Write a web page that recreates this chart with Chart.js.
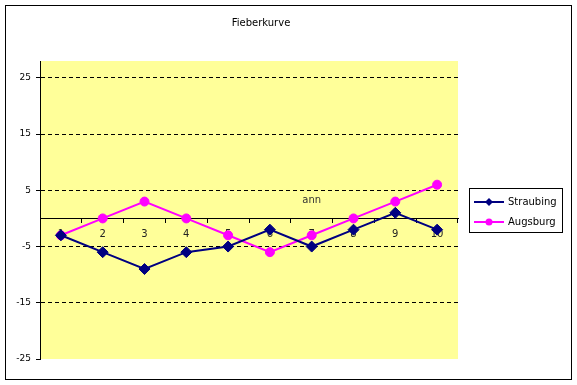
<!DOCTYPE html>
<html>
<head>
<meta charset="utf-8">
<script src="https://cdn.jsdelivr.net/npm/chart.js@4/dist/chart.umd.min.js"></script>
<style>
  html, body { margin: 0; padding: 0; background: #fff; }
  #wrap { width: 577px; height: 385px; position: relative; }
</style>
</head>
<body>
<div id="wrap"><canvas id="c" width="577" height="385"></canvas></div>
<script>
const chartTitle = 'Fieberkurve';
const categories = ['1', '2', '3', '4', '5', '6', '7', '8', '9', '10'];
const straubing = [-3, -6, -9, -6, -5, -2, -5, -2, 1, -2];
const augsburg = [-3, 0, 3, 0, -3, -6, -3, 0, 3, 6];
const yTicks = [-25, -15, -5, 5, 15, 25];
const yMin = -25;
const yMax = 28;
const annLabel = 'ann';
const annCategory = '7';
const annValue = 3.2;

const FONT = "'DejaVu Sans', Tahoma, sans-serif";

const decorPlugin = {
  id: 'decor',
  beforeDraw(chart) {
    const ctx = chart.ctx;
    const a = chart.chartArea;
    ctx.save();
    ctx.fillStyle = '#ffffff';
    ctx.fillRect(0, 0, chart.width, chart.height);
    ctx.strokeStyle = '#000000';
    ctx.lineWidth = 1;
    ctx.strokeRect(5.5, 5.5, 566, 374);
    ctx.fillStyle = '#FFFF99';
    ctx.fillRect(a.left, a.top, a.right - a.left, a.bottom - a.top);
    ctx.restore();
  },
  afterDraw(chart) {
    const ctx = chart.ctx;
    ctx.save();
    ctx.fillStyle = '#000000';
    ctx.font = '10px ' + FONT;
    ctx.textAlign = 'center';
    ctx.textBaseline = 'middle';
    ctx.fillText(chartTitle, 261, 23);
    const xs = chart.scales.x, ys = chart.scales.y;
    const ax = xs.getPixelForValue(categories.indexOf(annCategory));
    const ay = ys.getPixelForValue(annValue);
    ctx.fillStyle = '#333333';
    ctx.font = '10px ' + FONT;
    ctx.fillText(annLabel, ax, ay);
    const lx = 469.5, ly = 188.5, lw = 93, lh = 44;
    ctx.fillStyle = '#ffffff';
    ctx.fillRect(lx, ly, lw, lh);
    ctx.strokeStyle = '#000000';
    ctx.lineWidth = 1;
    ctx.strokeRect(lx, ly, lw, lh);
    chart.data.datasets.forEach((ds, i) => {
      const y = 202 + i * 20;
      ctx.strokeStyle = ds.borderColor;
      ctx.lineWidth = 2;
      ctx.beginPath();
      ctx.moveTo(474, y);
      ctx.lineTo(504, y);
      ctx.stroke();
      ctx.fillStyle = ds.backgroundColor;
      ctx.beginPath();
      if (ds.pointStyle === 'rectRot') {
        ctx.moveTo(489, y - 4); ctx.lineTo(493, y); ctx.lineTo(489, y + 4); ctx.lineTo(485, y);
        ctx.closePath();
      } else {
        ctx.arc(489, y, 3.5, 0, Math.PI * 2);
      }
      ctx.fill();
      ctx.fillStyle = '#000000';
      ctx.font = '10px ' + FONT;
      ctx.textAlign = 'left';
      ctx.textBaseline = 'middle';
      ctx.fillText(ds.label, 508, y);
    });
    ctx.restore();
  }
};

new Chart(document.getElementById('c'), {
  type: 'line',
  data: {
    labels: categories,
    datasets: [
      {
        label: 'Straubing',
        data: straubing,
        borderColor: '#000080',
        backgroundColor: '#000080',
        borderWidth: 2,
        pointStyle: 'rectRot',
        pointRadius: 5.5,
        pointBorderWidth: 1,
        tension: 0
      },
      {
        label: 'Augsburg',
        data: augsburg,
        borderColor: '#FF00FF',
        backgroundColor: '#FF00FF',
        borderWidth: 2,
        pointStyle: 'circle',
        pointRadius: 4.5,
        pointBorderWidth: 1,
        tension: 0
      }
    ]
  },
  options: {
    responsive: false,
    animation: false,
    devicePixelRatio: 1,
    layout: { padding: { left: 0, top: 61, right: 119, bottom: 26 } },
    plugins: {
      legend: { display: false },
      title: { display: false },
      tooltip: { enabled: false }
    },
    scales: {
      x: {
        type: 'category',
        position: { y: 0 },
        offset: true,
        z: 1,
        grid: {
          display: true,
          drawOnChartArea: false,
          drawTicks: true,
          tickLength: 4,
          tickColor: '#000000',
          offset: true
        },
        border: { display: true, color: '#000000', width: 1 },
        ticks: {
          color: '#222222',
          font: { family: FONT, size: 10 },
          padding: 6,
          maxRotation: 0,
          autoSkip: false
        }
      },
      y: {
        min: yMin,
        max: yMax,
        afterBuildTicks(scale) {
          scale.ticks = yTicks.map(v => ({ value: v }));
        },
        afterFit(scale) { scale.width = 40; },
        grid: {
          color: (c) => (c.tick && c.tick.value === yMin) ? 'rgba(0,0,0,0)' : '#000000',
          lineWidth: 1,
          drawTicks: true,
          tickLength: 4,
          tickColor: '#000000'
        },
        border: { display: true, color: '#000000', width: 1, dash: [4, 3] },
        ticks: {
          color: '#000000',
          font: { family: FONT, size: 9 },
          padding: 5
        }
      }
    }
  },
  plugins: [decorPlugin]
});
</script>
</body>
</html>
